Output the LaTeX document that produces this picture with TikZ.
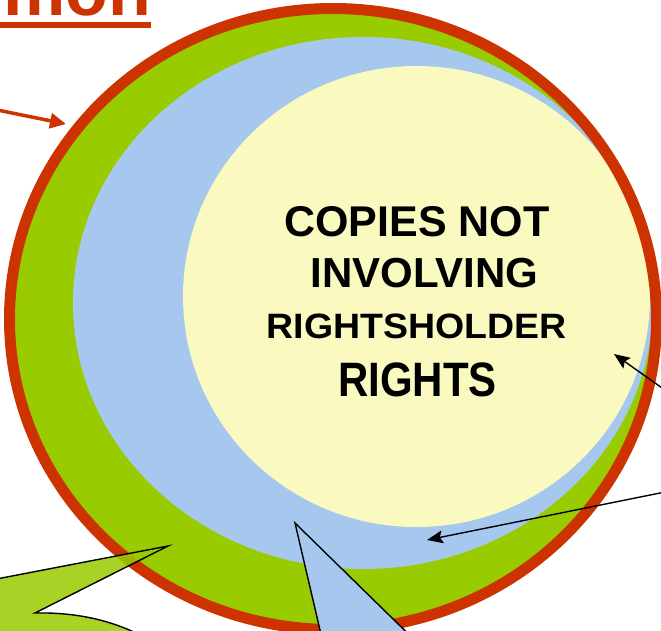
\documentclass[tikz,border=0pt]{standalone}
\usepackage{fontspec}
\setmainfont{Liberation Sans}
\usetikzlibrary{arrows.meta}
\definecolor{rimred}{HTML}{CC3300}
\definecolor{ringgreen}{HTML}{99CC00}
\definecolor{ringblue}{HTML}{A6C8EF}
\definecolor{coreyellow}{HTML}{FAFAC0}
\begin{document}
\begin{tikzpicture}[x=1pt,y=-1pt,
  lbl/.style={anchor=base, inner sep=0pt, text=black},
  ptr/.style={draw=black, line width=1.4pt, -{Stealth[length=16pt,width=13pt,inset=3pt]}},
  callout/.style={draw=black, line width=1.4pt, line join=miter}]
\useasboundingbox (0,0) rectangle (661,630);
\fill[white] (0,0) rectangle (661,630);
% title fragment
\node[anchor=base east, inner sep=0pt, text=rimred, font=\bfseries\fontsize{70}{70}\selectfont] (title) at (151.6,15) {Common};
\fill[rimred] (-10,22) rectangle (151,28);
% rings
\fill[ringgreen] (333,319) ellipse [x radius=323.5, y radius=310.5];
\fill[ringblue] (363,303) ellipse [x radius=290, y radius=266];
\fill[coreyellow] (416.5,296.5) ellipse [x radius=233.5, y radius=230.5];
\draw[rimred, line width=11pt] (333,319) ellipse [x radius=323.5, y radius=310.5];
% text
\node[lbl, font=\bfseries\fontsize{43}{43}\selectfont] (l1) at (417,236) {COPIES NOT};
\node[lbl, font=\bfseries\fontsize{42}{42}\selectfont] (l2) at (424.5,287) {INVOLVING};
\node[lbl, font=\bfseries\fontsize{37.5}{37.5}\selectfont] (l3) at (416.5,338) {\scalebox{1}[0.94]{RIGHTSHOLDER}};
\node[lbl, font=\bfseries\fontsize{42}{42}\selectfont] (l4) at (417.5,396) {\scalebox{1}[1.15]{RIGHTS}};
% arrows
\coordinate (redstart) at (-10,108.5);
\coordinate (redtip) at (66,124);
\draw[rimred, line width=3.5pt, -{Triangle[length=16pt,width=15pt]}] (redstart) -- (redtip);
\coordinate (ystart) at (665,390);
\coordinate (ytip) at (614,354);
\draw[ptr] (ystart) -- (ytip);
\coordinate (bstart) at (665,492);
\coordinate (btip) at (427,540);
\draw[ptr] (bstart) -- (btip);
% green callout
\coordinate (gtip) at (168,546);
\coordinate (gbase) at (35,613);
\filldraw[callout, fill=ringgreen, fill opacity=0.85] (-40,586) -- (gtip) -- (gbase)
  .. controls (80,612) and (115,622) .. (142,636) -- (170,700) -- (-60,700) -- cycle;
% blue callout
\coordinate (btiptop) at (295,523);
\filldraw[callout, fill=ringblue] (327,660) -- (btiptop) -- (435,660) -- cycle;
\end{tikzpicture}
\end{document}
